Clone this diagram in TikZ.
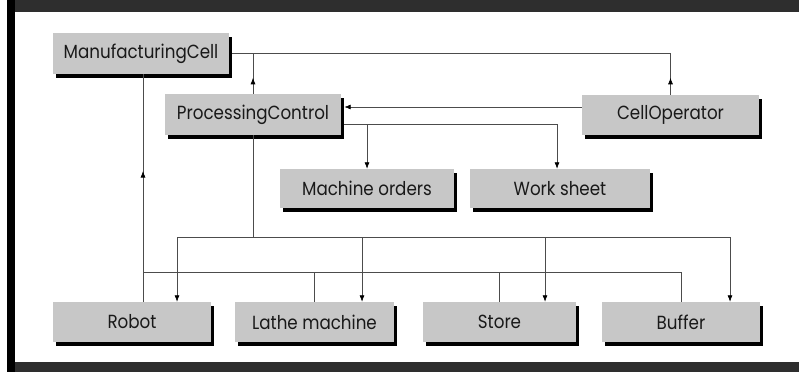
\documentclass[tikz,border=0pt]{standalone}
\usepackage{fontspec}
\setmainfont{Poppins}[FakeStretch=0.88]
\usetikzlibrary{arrows.meta,shadows}

\tikzset{
  box/.style={rectangle, fill=black!22, inner sep=0pt, text=black!90,
    font=\fontsize{19}{21}\selectfont,
    drop shadow={shadow xshift=3pt, shadow yshift=-4pt, fill=black, opacity=1}},
  link/.style={draw=black!70, line width=0.7pt},
  tip/.style={link, -{Latex[length=6.5pt,width=5pt,color=black]}},
}

\begin{document}
\begin{tikzpicture}[x=1pt, y=-1pt]
  \useasboundingbox (0,0) rectangle (799,372);

  % frame bands
  \fill[black!82] (7,0) rectangle (799,12);
  \fill[black!82] (7,362) rectangle (799,372);
  \fill[black] (7,0) rectangle (15,372);

  % classes
  \node[box, minimum width=176, minimum height=41] (MC)  at (141,53.5)  {ManufacturingCell};
  \node[box, minimum width=176, minimum height=41] (PC)  at (253,114.5) {ProcessingControl};
  \node[box, minimum width=177, minimum height=40] (CO)  at (670.5,115) {CellOperator};
  \node[box, minimum width=174, minimum height=39] (MO)  at (367,188.5) {Machine orders};
  \node[box, minimum width=180, minimum height=39] (WS)  at (560,188.5) {Work sheet};
  \node[box, minimum width=158, minimum height=40] (RB)  at (132,322)   {Robot};
  \node[box, minimum width=159, minimum height=40] (LM)  at (314.5,322) {Lathe machine};
  \node[box, minimum width=153, minimum height=40] (ST)  at (499.5,322) {Store};
  \node[box, minimum width=158, minimum height=40] (BF)  at (681,322)   {Buffer};

  % bus junctions
  \coordinate (busTop) at (253,237);
  \coordinate (busLow) at (143,272);
  \coordinate (dRB) at (177,237);
  \coordinate (dLM) at (362,237);
  \coordinate (dST) at (545,237);
  \coordinate (dBF) at (730,237);
  \coordinate (upMC) at (143,171);

  % ManufacturingCell -- CellOperator, ProcessingControl
  \draw[link] ([xshift=3pt]MC.east) -| (CO.north);
  \draw[tip] (CO.north) -- ++(0,-17);
  \draw[link] (PC.north) -- (PC.north |- MC.east);
  \draw[tip] (PC.north) -- ++(0,-16);

  % CellOperator -> ProcessingControl
  \draw[tip] ([yshift=8pt]CO.west) -- ([yshift=8pt,xshift=3pt]CO.west -| PC.east);

  % ProcessingControl -> Machine orders, Work sheet
  \draw[tip] ([yshift=-9.5pt,xshift=3pt]PC.east) -| ([xshift=-3pt]WS.north);
  \draw[tip] ([yshift=-9.5pt]PC.east -| MO.north) -- (MO.north);

  % ProcessingControl -> machines
  \draw[link] (PC.south) -- (busTop);
  \draw[link] (dRB) -- (dBF);
  \draw[tip] (dRB) -- (dRB |- RB.north);
  \draw[tip] (dLM) -- (dLM |- LM.north);
  \draw[tip] (dST) -- (dST |- ST.north);
  \draw[tip] (dBF) -- (dBF |- BF.north);

  % machines -> ManufacturingCell
  \draw[link] (busLow |- MC.south) -- (busLow |- RB.north);
  \draw[tip] (busLow |- 0,200) -- (upMC);
  \draw[link] (busLow) -- (busLow -| BF.north);
  \draw[link] (LM.north) -- (LM.north |- busLow);
  \draw[link] (ST.north) -- (ST.north |- busLow);
  \draw[link] (BF.north) -- (BF.north |- busLow);
\end{tikzpicture}
\end{document}
